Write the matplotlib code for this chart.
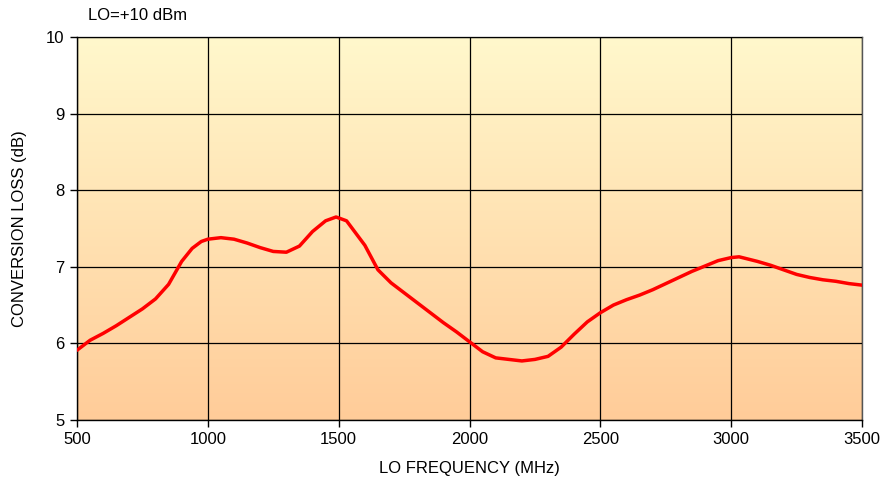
import numpy as np
import matplotlib.pyplot as plt
from matplotlib.colors import LinearSegmentedColormap

plt.rcParams['font.family'] = ['Liberation Sans', 'DejaVu Sans']

# LO frequency (MHz) and conversion loss (dB)
freq = [500, 550, 600, 650, 700, 750, 800, 850, 900, 940, 975,
        1000, 1050, 1100, 1150, 1200, 1250, 1300, 1350, 1400, 1450,
        1490, 1530, 1600, 1650, 1700, 1750, 1800, 1850, 1900, 1950,
        2000, 2050, 2100, 2150, 2200, 2250, 2300, 2350, 2400, 2450,
        2500, 2550, 2600, 2650, 2700, 2750, 2800, 2850, 2900, 2950,
        3000, 3030, 3100, 3150, 3200, 3250, 3300, 3350, 3400, 3450, 3500]
loss = [5.91, 6.04, 6.13, 6.23, 6.34, 6.45, 6.58, 6.77, 7.07, 7.24, 7.33,
        7.36, 7.38, 7.36, 7.31, 7.25, 7.20, 7.19, 7.27, 7.46, 7.60,
        7.65, 7.60, 7.28, 6.96, 6.79, 6.66, 6.53, 6.40, 6.27, 6.15,
        6.02, 5.89, 5.81, 5.79, 5.77, 5.79, 5.83, 5.95, 6.12, 6.28,
        6.40, 6.50, 6.57, 6.63, 6.70, 6.78, 6.86, 6.94, 7.01, 7.08,
        7.12, 7.13, 7.07, 7.02, 6.96, 6.90, 6.86, 6.83, 6.81, 6.78, 6.76]

xticks = [500, 1000, 1500, 2000, 2500, 3000, 3500]
yticks = [5, 6, 7, 8, 9, 10]

fig = plt.figure(figsize=(8.86, 4.94), dpi=100)
ax = fig.add_axes([0.0869, 0.150, 0.8861, 0.775])

# gradient background, light yellow at top to peach at bottom
cmap = LinearSegmentedColormap.from_list('bg', ['#FFCC99', '#FFF8CC'])
grad = np.linspace(0, 1, 256).reshape(-1, 1)
ax.imshow(grad, cmap=cmap, origin='lower', aspect='auto',
          extent=[500, 3500, 5, 10], zorder=0)

ax.plot(freq, loss, color='#FF0000', linewidth=2.5, zorder=3,
        solid_joinstyle='round', solid_capstyle='round')

ax.set_xlim(500, 3500)
ax.set_ylim(5, 10)
ax.set_xticks(xticks)
ax.set_yticks(yticks)
ax.grid(True, color='black', linewidth=0.9, zorder=1)
ax.set_axisbelow(False)
for s in ax.spines.values():
    s.set_color('#555555')
    s.set_linewidth(1)
ax.spines['left'].set_color('black')
ax.spines['bottom'].set_color('black')
ax.tick_params(direction='out', length=5, width=1, labelsize=12, pad=4)

ax.set_xlabel('LO FREQUENCY (MHz)', fontsize=12, labelpad=10)
ax.set_ylabel('CONVERSION LOSS (dB)', fontsize=12, labelpad=14)
fig.text(0.099, 0.968, 'LO=+10 dBm', fontsize=12, va='center', ha='left')

fig.savefig('out.png', dpi=100)
